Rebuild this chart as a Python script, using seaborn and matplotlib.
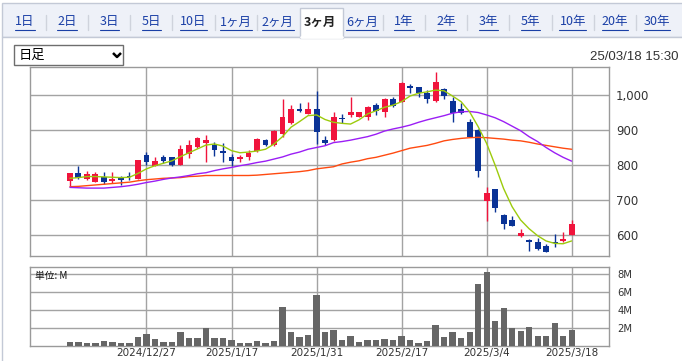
import matplotlib
matplotlib.use("Agg")
import matplotlib.pyplot as plt
import matplotlib.patches as mpatches
import seaborn as sns
import numpy as np

# 3ヶ月 daily candles, 2024/12/16 .. 2025/3/18 (index = trading day)
opens = [755, 777, 760, 751, 767, 754, 765, 770, 761, 829,
         798, 822, 822, 800, 832, 851, 864, 857, 840, 822,
         817, 824, 840, 871, 857, 889, 919, 960, 946, 960,
         870, 871, 934, 943, 938, 938, 971, 950, 988, 981,
         1026, 1022, 1007, 983, 1016, 984, 959, 922, 900, 698,
         731, 657, 643, 598, 586, 581, 569, 579, 583, 601]
closes = [777, 762, 774, 773, 751, 761, 757, 765, 814, 810,
          811, 811, 801, 846, 857, 877, 871, 843, 835, 812,
          822, 833, 874, 857, 897, 936, 960, 954, 960, 895,
          864, 938, 931, 950, 950, 965, 954, 988, 969, 1035,
          1019, 1007, 988, 1036, 998, 948, 948, 881, 784, 719,
          676, 630, 627, 607, 579, 560, 552, 578, 588, 632]
highs = [777, 797, 783, 780, 780, 780, 769, 780, 814, 838,
         824, 829, 822, 857, 871, 881, 886, 865, 864, 831,
         829, 843, 876, 874, 899, 989, 971, 977, 980, 1010,
         883, 950, 945, 993, 952, 969, 976, 990, 995, 1037,
         1030, 1022, 1014, 1065, 1021, 995, 976, 932, 903, 736,
         731, 659, 655, 617, 588, 590, 574, 602, 608, 642]
lows = [740, 760, 757, 751, 746, 750, 744, 757, 761, 800,
        798, 807, 798, 800, 821, 850, 810, 827, 810, 798,
        810, 814, 838, 854, 855, 881, 917, 950, 946, 860,
        857, 869, 921, 938, 936, 928, 943, 938, 967, 980,
        1005, 993, 976, 981, 989, 922, 945, 880, 765, 641,
        667, 616, 627, 593, 555, 557, 552, 567, 581, 600]

# moving averages
ma_short = [762, 764, 767, 767, 766, 765, 764, 765, 776, 789,
            798, 805, 812, 824, 835, 846, 857, 860, 854, 841,
            835, 837, 840, 845, 860, 881, 908, 924, 941, 943,
            930, 922, 919, 917, 929, 946, 955, 965, 971, 981,
            997, 1005, 1009, 1014, 1012, 997, 981, 952, 910, 862,
            800, 733, 681, 643, 618, 598, 583, 576, 575, 583]
ma_mid = [736, 735, 734, 734, 734, 736, 738, 741, 745, 750,
          754, 759, 763, 766, 770, 775, 778, 784, 789, 793,
          798, 802, 807, 811, 817, 823, 831, 837, 845, 850,
          855, 864, 867, 871, 876, 881, 888, 897, 903, 908,
          914, 922, 929, 935, 941, 948, 952, 953, 950, 943,
          935, 924, 911, 898, 881, 867, 850, 835, 822, 811]
ma_long = [738, 739, 741, 743, 745, 747, 749, 751, 755, 758,
           760, 762, 763, 764, 767, 768, 770, 770, 770, 770,
           770, 770, 771, 773, 775, 777, 779, 781, 784, 789,
           792, 795, 803, 808, 812, 818, 822, 828, 834, 841,
           848, 852, 856, 862, 869, 873, 876, 878, 879, 878,
           876, 874, 871, 869, 865, 860, 856, 852, 848, 845]

# volume in millions
volume = [0.49, 0.49, 0.37, 0.37, 0.60, 0.49, 0.37, 0.37, 1.05, 1.39,
          0.82, 0.49, 0.49, 1.61, 0.94, 0.94, 2.06, 0.94, 0.94, 0.71,
          0.37, 0.37, 0.60, 0.37, 0.60, 4.42, 1.61, 1.05, 1.27, 5.66,
          1.61, 1.84, 0.71, 1.12, 0.49, 0.71, 0.71, 0.82, 0.71, 1.16,
          0.71, 0.37, 0.60, 2.40, 1.05, 1.61, 0.94, 1.61, 6.89, 8.24,
          2.85, 4.31, 2.06, 1.72, 2.17, 1.16, 1.16, 2.62, 1.16, 1.84]

tick_pos = [9, 19, 29, 39, 49, 59]
tick_labels = ["2024/12/27", "2025/1/17", "2025/1/31", "2025/2/17", "2025/3/4", "2025/3/18"]
price_ticks = [600, 700, 800, 900, 1000]
price_labels = ["600", "700", "800", "900", "1,000"]
vol_ticks = [2, 4, 6, 8]
vol_labels = ["2M", "4M", "6M", "8M"]
tabs = ["1日", "2日", "3日", "5日", "10日", "1ヶ月", "2ヶ月", "3ヶ月", "6ヶ月",
        "1年", "2年", "3年", "5年", "10年", "20年", "30年"]

UP = "#f0143c"
DOWN = "#0a3396"
GRID = "#a3a3a3"
JP = ["Noto Sans CJK JP", "DejaVu Sans"]

sns.set_style("white")
plt.rcParams["font.family"] = ["DejaVu Sans", "Noto Sans CJK JP"]

W, H = 682, 361
fig = plt.figure(figsize=(W / 100, H / 100), dpi=100)

# page background / header drawn in pixel coordinates
bg = fig.add_axes([0, 0, 1, 1], zorder=0)
bg.set_xlim(0, W)
bg.set_ylim(H, 0)
bg.axis("off")
bg.add_patch(mpatches.Rectangle((2, 3), W, 34, facecolor="#eef1f8", edgecolor="#c3c9d6", lw=1))
bg.add_patch(mpatches.Rectangle((2, 37), W, H, facecolor="white", edgecolor="#c3c9d6", lw=1))
bg.add_patch(mpatches.Rectangle((300, 8), 43, 30, facecolor="white", edgecolor="#c3c9d6", lw=1))
bg.plot([300.8, 342.2], [37.2, 37.2], color="white", lw=2)

renderer = fig.canvas.get_renderer()
step = 42.13
for i, lab in enumerate(tabs):
    cx = 25 + step * i
    if lab == "3ヶ月":
        bg.text(cx, 22, lab, ha="center", va="center", fontsize=9, fontweight="bold",
                color="#222222", family=JP)
    else:
        t = bg.text(cx, 22, lab, ha="center", va="center", fontsize=9, color="#1a3fa6", family=JP)
        w = t.get_window_extent(renderer).width
        bg.plot([cx - w / 2, cx + w / 2], [30, 30], color="#1a3fa6", lw=0.8)
    if i < len(tabs) - 1 and lab not in ("2ヶ月", "3ヶ月"):
        sx = cx + step / 2
        bg.plot([sx, sx], [15, 30], color="#cfd3dc", lw=1)

# select box
bg.add_patch(mpatches.Rectangle((14, 45), 109, 20, facecolor="white", edgecolor="#6e6e6e", lw=1))
bg.text(19, 55.5, "日足", ha="left", va="center", fontsize=9.5, color="black", family=JP)
bg.plot([113, 117, 121], [53, 57, 53], color="black", lw=1.8, solid_capstyle="butt")
bg.text(678, 57, "25/03/18 15:30", ha="right", va="center", fontsize=9.5,
        color="#333333", family="Liberation Sans")

# chart panels
left, right = 30 / W, 609 / W
ax = fig.add_axes([left, (H - 256) / H, right - left, (256 - 67) / H], zorder=1)
axv = fig.add_axes([left, (H - 346.3) / H, right - left, (346.3 - 267) / H], zorder=1)

idx = np.arange(len(opens))
o = np.array(opens)
c = np.array(closes)
cols = [UP if cc >= oo else DOWN for oo, cc in zip(o, c)]

ax.vlines(idx, lows, highs, colors=cols, lw=1, zorder=3)
ax.bar(idx, np.maximum(np.abs(c - o), 1.5), bottom=np.minimum(o, c), width=0.7,
       color=cols, zorder=3, linewidth=0)

sns.lineplot(x=idx, y=ma_long, color="#ff4a10", lw=1, ax=ax, zorder=4)
sns.lineplot(x=idx, y=ma_mid, color="#9b1ef5", lw=1, ax=ax, zorder=4)
sns.lineplot(x=idx, y=ma_short, color="#9ccb0c", lw=1, ax=ax, zorder=4)

sns.barplot(x=idx, y=volume, color="#666666", saturation=1, width=0.72,
            native_scale=True, errorbar=None, ax=axv, zorder=3, linewidth=0)

for a in (ax, axv):
    a.set_facecolor("white")
    a.set_xlim(-4.7, 63.4)
    a.set_xticks(tick_pos)
    a.grid(True, color=GRID, lw=1)
    a.set_axisbelow(True)
    a.set_xlabel("")
    a.set_ylabel("")
    for s in a.spines.values():
        s.set_color("#9a9a9a")
        s.set_linewidth(1)
    a.yaxis.tick_right()
    a.tick_params(length=0, colors="#333333")

ax.set_ylim(540, 1080)
ax.set_yticks(price_ticks, price_labels)
ax.tick_params(axis="y", labelsize=8.5, pad=5)
ax.tick_params(axis="x", labelbottom=False)

axv.set_ylim(0, 8.81)
axv.set_yticks(vol_ticks, vol_labels)
axv.set_xticks(tick_pos, tick_labels)
axv.tick_params(axis="y", labelsize=7.2, pad=6)
axv.tick_params(axis="x", labelsize=7.5, pad=1.5)
axv.text(5 / 579, (346.3 - 276) / 79.3, "単位: M", transform=axv.transAxes, ha="left",
         va="center", fontsize=7, color="#111111", family=JP, zorder=5)

fig.savefig("out.png", dpi=100)
